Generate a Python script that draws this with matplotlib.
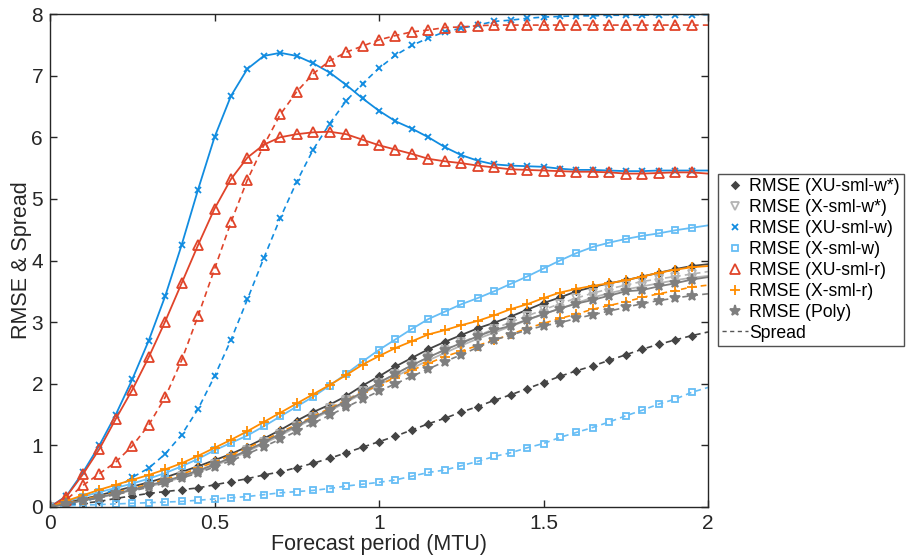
import matplotlib
matplotlib.use("Agg")
import matplotlib.pyplot as plt
from matplotlib.lines import Line2D
import numpy as np

plt.rcParams['font.family'] = ['Liberation Sans', 'DejaVu Sans']

# forecast period grid (MTU): markers every 0.05, line runs on to 2.0
t = np.round(np.arange(0, 2.0001, 0.05), 2)

# --- RMSE / spread values ---
xu_w_rmse = [0, .18, .56, 1.0, 1.5, 2.07, 2.7, 3.42, 4.25, 5.15, 6.0, 6.67, 7.11, 7.32, 7.37, 7.32,
             7.2, 7.05, 6.85, 6.63, 6.43, 6.26, 6.14, 6.0, 5.84, 5.71, 5.62, 5.56, 5.54, 5.53, 5.52,
             5.49, 5.47, 5.47, 5.46, 5.45, 5.45, 5.46, 5.46, 5.46, 5.46]
xu_w_spread = [0, .03, .08, .17, .3, .48, .63, .86, 1.17, 1.59, 2.12, 2.71, 3.37, 4.04, 4.69, 5.28,
               5.8, 6.22, 6.59, 6.87, 7.12, 7.33, 7.49, 7.61, 7.71, 7.77, 7.82, 7.88, 7.9, 7.93, 7.95,
               7.96, 7.97, 7.97, 7.98, 7.98, 7.98, 7.99, 7.99, 7.99, 7.99]
xu_r_rmse = [0, .17, .53, .94, 1.43, 1.9, 2.43, 3.01, 3.63, 4.25, 4.84, 5.32, 5.67, 5.88, 6.0, 6.05,
             6.08, 6.09, 6.05, 5.96, 5.87, 5.8, 5.73, 5.65, 5.61, 5.58, 5.54, 5.51, 5.48, 5.47, 5.46,
             5.45, 5.44, 5.44, 5.43, 5.41, 5.41, 5.42, 5.43, 5.43, 5.41]
xu_r_spread = [0, .12, .35, .54, .73, .99, 1.33, 1.78, 2.38, 3.1, 3.86, 4.62, 5.31, 5.87, 6.37, 6.74,
               7.03, 7.24, 7.38, 7.48, 7.58, 7.65, 7.71, 7.74, 7.78, 7.79, 7.81, 7.82, 7.82, 7.82, 7.82,
               7.82, 7.82, 7.82, 7.82, 7.82, 7.82, 7.82, 7.82, 7.82, 7.82]
x_w_rmse = [0, .09, .17, .24, .31, .38, .46, .55, .66, .78, .92, 1.04, 1.16, 1.31, 1.47, 1.63,
            1.79, 1.97, 2.16, 2.36, 2.55, 2.72, 2.89, 3.05, 3.17, 3.29, 3.39, 3.5, 3.62, 3.74, 3.87,
            4.0, 4.12, 4.22, 4.29, 4.35, 4.4, 4.44, 4.49, 4.53, 4.57]
x_w_spread = [0, .02, .03, .04, .05, .06, .07, .08, .09, .11, .13, .15, .17, .2, .23, .25,
              .27, .3, .34, .37, .4, .44, .5, .56, .6, .67, .74, .82, .88, .96, 1.03,
              1.13, 1.21, 1.29, 1.38, 1.48, 1.57, 1.67, 1.75, 1.86, 1.94]
x_r_rmse = [0, .1, .19, .28, .36, .44, .52, .61, .71, .83, .96, 1.09, 1.23, 1.38, 1.53, 1.68,
            1.83, 1.98, 2.14, 2.31, 2.45, 2.58, 2.69, 2.8, 2.87, 2.95, 3.02, 3.11, 3.21, 3.29, 3.39,
            3.48, 3.54, 3.59, 3.63, 3.68, 3.74, 3.8, 3.85, 3.89, 3.91]
x_r_spread = [0, .06, .12, .18, .24, .3, .37, .45, .53, .63, .73, .84, .96, 1.08, 1.21, 1.34,
              1.47, 1.6, 1.73, 1.86, 1.98, 2.1, 2.22, 2.33, 2.44, 2.53, 2.62, 2.71, 2.8, 2.9, 2.98,
              3.06, 3.13, 3.21, 3.27, 3.33, 3.4, 3.46, 3.51, 3.57, 3.6]
xu_ws_rmse = [0, .07, .13, .19, .26, .33, .4, .48, .57, .66, .76, .86, .98, 1.11, 1.25, 1.4,
              1.54, 1.66, 1.8, 1.97, 2.12, 2.28, 2.42, 2.56, 2.68, 2.79, 2.9, 2.99, 3.09, 3.2, 3.31,
              3.4, 3.5, 3.57, 3.63, 3.68, 3.74, 3.8, 3.86, 3.91, 3.94]
xu_ws_spread = [0, .03, .06, .09, .14, .18, .22, .25, .28, .31, .36, .41, .46, .52, .57, .64,
                .71, .79, .88, .97, 1.06, 1.15, 1.25, 1.35, 1.44, 1.54, 1.63, 1.73, 1.82, 1.92, 2.02,
                2.12, 2.21, 2.29, 2.38, 2.47, 2.56, 2.64, 2.71, 2.78, 2.84]
x_ws_rmse = [0, .05, .1, .15, .21, .27, .33, .4, .48, .57, .67, .78, .9, 1.03, 1.16, 1.3,
             1.43, 1.56, 1.7, 1.84, 1.98, 2.12, 2.25, 2.38, 2.5, 2.62, 2.73, 2.83, 2.93, 3.03, 3.13,
             3.22, 3.31, 3.4, 3.47, 3.53, 3.58, 3.63, 3.68, 3.72, 3.75]
x_ws_spread = [0, .05, .1, .15, .21, .27, .34, .42, .5, .59, .69, .8, .92, 1.05, 1.18, 1.32,
               1.46, 1.6, 1.74, 1.88, 2.02, 2.16, 2.3, 2.43, 2.55, 2.67, 2.78, 2.89, 3.0, 3.1, 3.2,
               3.3, 3.39, 3.47, 3.54, 3.6, 3.66, 3.7, 3.74, 3.78, 3.82]
poly_rmse = [0, .05, .11, .16, .22, .28, .35, .42, .5, .59, .69, .8, .92, 1.05, 1.19, 1.32,
             1.45, 1.58, 1.72, 1.86, 2.02, 2.16, 2.3, 2.43, 2.55, 2.66, 2.77, 2.87, 2.94, 3.04, 3.13,
             3.22, 3.3, 3.36, 3.43, 3.5, 3.52, 3.58, 3.63, 3.69, 3.73]
poly_spread = [0, .05, .1, .15, .2, .26, .32, .39, .47, .55, .65, .75, .86, .98, 1.1, 1.23,
               1.36, 1.49, 1.62, 1.75, 1.88, 2.0, 2.12, 2.24, 2.36, 2.47, 2.59, 2.71, 2.79, 2.87, 2.94,
               2.99, 3.06, 3.12, 3.18, 3.24, 3.3, 3.35, 3.39, 3.43, 3.46]

labels = ["RMSE (XU-sml-w*)", "RMSE (X-sml-w*)", "RMSE (XU-sml-w)", "RMSE (X-sml-w)",
          "RMSE (XU-sml-r)", "RMSE (X-sml-r)", "RMSE (Poly)"]

# style per method: (colour, marker, size, filled)
styles = [
    ("#444444", "D", 3.5, True),
    ("#b4b4b4", "v", 6, False),
    ("#118ce0", "x", 4, False),
    ("#66bdf5", "s", 4.5, False),
    ("#e0442a", "^", 7, False),
    ("#ff8c00", "+", 7, False),
    ("#7f7f7f", "*", 8, True),
]
rmse = [xu_ws_rmse, x_ws_rmse, xu_w_rmse, x_w_rmse, xu_r_rmse, x_r_rmse, poly_rmse]
spread = [xu_ws_spread, x_ws_spread, xu_w_spread, x_w_spread, xu_r_spread, x_r_spread, poly_spread]

fig = plt.figure(figsize=(9.09, 5.58), dpi=100)
ax = fig.add_axes([50 / 909, 51 / 558, 658 / 909, 493 / 558])

mk = slice(0, len(t) - 1)
handles = []
for (col, m, ms, filled), r, s in zip(styles, rmse, spread):
    kw = dict(color=col, marker=m, markersize=ms, markevery=mk,
              markerfacecolor=col if filled else "none", markeredgecolor=col,
              markeredgewidth=1.3)
    ax.plot(t, s, linestyle=(0, (3.5, 2.5)), linewidth=1.2, **kw)
    ax.plot(t, r, linestyle="-", linewidth=1.3, **kw)
    handles.append(Line2D([], [], linestyle="none", **{k: v for k, v in kw.items() if k != "markevery"}))

handles.append(Line2D([], [], color="#555555", linestyle=(0, (3, 2.5)), linewidth=1.0))

ax.set_xlim(0, 2)
ax.set_ylim(0, 8)
ax.set_xticks([0, 0.5, 1, 1.5, 2])
ax.set_xticklabels(["0", "0.5", "1", "1.5", "2"])
ax.set_yticks(range(9))
ax.tick_params(direction="in", top=True, right=True, length=5, width=1,
               labelsize=15, colors="#262626", pad=5)
for sp in ax.spines.values():
    sp.set_color("#262626")
    sp.set_linewidth(1.0)
ax.set_xlabel("Forecast period (MTU)", fontsize=15.5, color="#262626", labelpad=1)
ax.set_ylabel("RMSE & Spread", fontsize=15.5, color="#262626")
ax.yaxis.set_label_coords(-0.027, 0.5)

leg = fig.legend(handles, labels + ["Spread"], loc="upper left",
                 bbox_to_anchor=(718 / 909, 1 - 174 / 558), fontsize=12.7,
                 frameon=True, fancybox=False, handlelength=1.45, handletextpad=0.05,
                 labelspacing=0.22, borderpad=0.25, borderaxespad=0)
leg.get_frame().set_edgecolor("#262626")
leg.get_frame().set_linewidth(1.0)

fig.savefig("out.png", dpi=100)
